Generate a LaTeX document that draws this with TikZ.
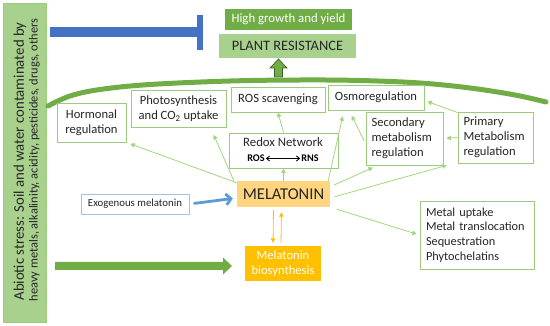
\documentclass[tikz,border=0pt]{standalone}
\usepackage{fontspec}
\setmainfont{Carlito}
\usetikzlibrary{arrows.meta}
\definecolor{gborder}{HTML}{9DCB7E}
\definecolor{garr}{HTML}{A2D67E}
\definecolor{darkg}{HTML}{70AD47}
\definecolor{lightg}{HTML}{A9D18E}
\definecolor{bluebar}{HTML}{4472C4}
\definecolor{bluearr}{HTML}{5B9BD5}
\definecolor{exob}{HTML}{9DC3E6}
\definecolor{melfill}{HTML}{FFD580}
\definecolor{orng}{HTML}{FFC000}
\definecolor{txt}{HTML}{262626}
\begin{document}
\begin{tikzpicture}[x=1pt,y=-1pt,
  gbox/.style={draw=gborder, line width=0.9pt, fill=white, text=txt,
    font=\fontsize{12.6}{15}\selectfont, inner sep=2pt, align=center},
  garrow/.style={draw=garr, line width=0.8pt, -{Triangle[length=4.5pt,width=4.5pt]}},
  oarrow/.style={draw=orng, line width=0.8pt, -{Triangle[length=4.5pt,width=4.5pt]}}]
\useasboundingbox (0,0) rectangle (550,326);

% left stress box
\node[draw=gborder, fill=lightg, line width=0.8pt, minimum width=43pt, minimum height=319pt, inner sep=0pt] (stress) at (24.5,162.5) {};
\node[rotate=90, text=txt, font=\fontsize{14.8}{16}\selectfont, inner sep=0pt] (s1) at (20,161.5) {Abiotic stress: Soil and water contaminated by};
\node[rotate=90, text=txt, font=\fontsize{12.4}{13}\selectfont, inner sep=0pt] (s2) at (34.5,160) {heavy metals, alkalinity, acidity, pesticides, drugs, others};

% blue T bar
\coordinate (tb1) at (50,32);
\coordinate (tb2) at (200,32);
\draw[bluebar, line width=10pt] (tb1) -- (tb2);
\fill[bluebar] (197,15) rectangle (203,50);

% top boxes
\node[fill=darkg, text=white, minimum width=127pt, minimum height=21pt, inner sep=0pt, font=\fontsize{12.8}{14}\selectfont] (high) at (288.5,19.5) {High growth and yield};
\node[fill=lightg, text=txt, minimum width=137pt, minimum height=24pt, inner sep=0pt, font=\fontsize{14.4}{16}\selectfont] (plant) at (287.5,46) {PLANT RESISTANCE};
% small block arrow up
\filldraw[fill=darkg, draw=black!45!darkg, line width=0.7pt]
  (274.5,77) -- (274.5,68) -- (270,68) -- (278.5,59) -- (287,68) -- (282.5,68) -- (282.5,77) -- cycle;

% arc
\draw[darkg, line width=5pt, line cap=round] plot[smooth, tension=0.6] coordinates
  {(48,106) (70,96) (100,89.5) (150,84.5) (230,81) (300,80) (360,80.5) (420,83) (470,88) (515,95) (546,102)};

% function boxes
\node[gbox, minimum width=69pt, minimum height=39pt] (horm) at (91.5,122.5) {Hormonal\\regulation};
\node[gbox, minimum width=95pt, minimum height=37pt] (photo) at (178.5,108.5) {Photosynthesis\\and CO\textsubscript{2} uptake};
\node[gbox, minimum width=94pt, minimum height=25pt] (ros) at (278,99.5) {ROS scavenging};
\node[gbox, minimum width=96pt, minimum height=25pt] (osmo) at (376,97.5) {Osmoregulation};
\node[gbox, minimum width=77pt, minimum height=53pt, align=left, text width=66pt] (sec) at (404.5,138.5) {Secondary\\metabolism\\regulation};
\node[gbox, minimum width=75pt, minimum height=51pt, align=left, text width=64pt] (prim) at (495.5,137.5) {Primary\\Metabolism\\regulation};
\node[gbox, minimum width=114pt, minimum height=68pt, align=left, text width=102pt, font=\fontsize{12.3}{14.7}\selectfont] (metal) at (477,235) {Metal uptake\\Metal translocation\\Sequestration\\Phytochelatins};

% redox network
\node[gbox, minimum width=109pt, minimum height=35pt] (redox) at (283.5,150.5) {};
\node[text=txt, font=\fontsize{12.8}{14}\selectfont, inner sep=0pt] (redoxt) at (283,142.5) {Redox Network};
\node[text=black, font=\bfseries\fontsize{10.2}{11}\selectfont, inner sep=1pt] (rosn) at (256,158.5) {ROS};
\node[text=black, font=\bfseries\fontsize{10.2}{11}\selectfont, inner sep=1pt] (rnsn) at (310,158.5) {RNS};
\draw[black, line width=0.9pt, {Straight Barb[length=3pt,width=5pt]}-{Straight Barb[length=3pt,width=5pt]}] (rosn) -- (rnsn);

% melatonin
\node[fill=melfill, text=txt, minimum width=93pt, minimum height=26pt, inner sep=0pt, font=\fontsize{16.5}{18}\selectfont] (mel) at (283.5,194) {MELATONIN};
\node[draw=exob, line width=0.9pt, fill=white, text=txt, minimum width=108pt, minimum height=20pt, inner sep=0pt, font=\fontsize{10.8}{12}\selectfont] (exo) at (135,204) {Exogenous melatonin};
\node[fill=orng, text=white, minimum width=76pt, minimum height=35pt, inner sep=0pt, align=center, font=\fontsize{12.6}{15}\selectfont] (bio) at (283,263.5) {Melatonin\\biosynthesis};

% big green arrow
\fill[darkg] (55,262) -- (223,262) -- (223,257.5) -- (232,266) -- (223,274.5) -- (223,270) -- (55,270) -- cycle;

% blue arrow
\draw[bluearr, line width=2.8pt, line cap=round, -{Straight Barb[length=5pt,width=11pt]}, shorten <=5pt, shorten >=4pt] (exo.east) -- ([yshift=-4pt]mel.west);

% orange arrows
\draw[oarrow, shorten <=3pt, shorten >=3pt] ([xshift=-10pt]mel.south) -- ([xshift=-10pt]bio.north);
\draw[oarrow, shorten <=3pt, shorten >=5pt] ([xshift=-2pt]bio.north) -- ([xshift=-2pt]mel.south);

% green arrows
\draw[garrow, shorten >=4pt] ([yshift=-2pt]mel.north west) -- (horm.south east);
\draw[garrow, shorten >=8pt] ([xshift=-3pt]mel.north west) -- ([xshift=-16pt]photo.south east);
\draw[garrow] (mel.north) -- (redox.south);
\draw[garrow] (redox.north) -- (ros.south);
\draw[garrow, shorten >=6pt] ([xshift=-2pt]mel.north east) -- ([xshift=-32pt]osmo.south);
\draw[garrow, shorten <=3pt, shorten >=6pt] ([yshift=-5pt]sec.west) -- ([xshift=-27pt]osmo.south);
\draw[garrow, shorten >=3pt] ([yshift=-1pt]prim.north west) -- ([yshift=-3pt]osmo.east);
\draw[garrow, shorten >=3pt] (prim.west) -- (sec.east);
\draw[garrow, shorten <=4pt, shorten >=5pt] ([yshift=-6pt]mel.north east) -- ([xshift=-27pt]sec.south);
\draw[garrow, shorten <=5pt, shorten >=7pt] ([yshift=-4pt]mel.east) -- ([xshift=-42pt]prim.south);
\draw[garrow, shorten <=7pt, shorten >=3pt] (mel.south east) -- (metal.west);
\end{tikzpicture}
\end{document}
